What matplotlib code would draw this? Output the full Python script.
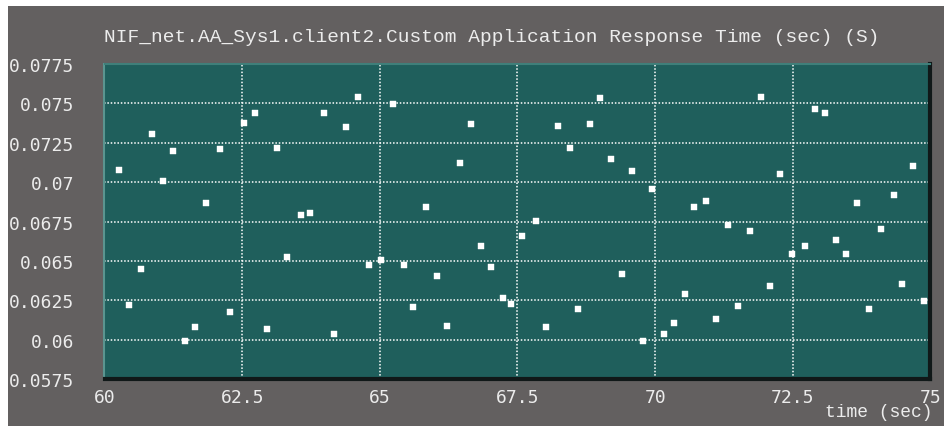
# -*- coding: utf-8 -*-

# Response time samples of the custom application on client2, one point per poll

import matplotlib
matplotlib.use("Agg")
import matplotlib.pyplot as plt
from matplotlib.patches import Rectangle

chart_title = "NIF_net.AA_Sys1.client2.Custom Application Response Time (sec) (S)"
x_label = "time (sec)"

sample_time = [
    60.27, 60.44, 60.66, 60.87, 61.06, 61.24, 61.46, 61.64, 61.85, 62.09,
    62.28, 62.53, 62.73, 62.95, 63.13, 63.31, 63.56, 63.74, 63.99, 64.17,
    64.39, 64.60, 64.81, 65.03, 65.24, 65.43, 65.60, 65.83, 66.03, 66.22,
    66.46, 66.65, 66.83, 67.01, 67.23, 67.38, 67.59, 67.83, 68.02, 68.23,
    68.45, 68.60, 68.81, 69.00, 69.20, 69.39, 69.58, 69.77, 69.94, 70.16,
    70.35, 70.55, 70.70, 70.92, 71.10, 71.32, 71.50, 71.72, 71.93, 72.08,
    72.27, 72.48, 72.73, 72.90, 73.09, 73.28, 73.46, 73.67, 73.88, 74.10,
    74.34, 74.49, 74.68, 74.89,
]

response_time = [
    0.07080, 0.06220, 0.06447, 0.07306, 0.07008, 0.07200, 0.05992, 0.06079, 0.06868, 0.07211,
    0.06174, 0.07378, 0.07438, 0.06070, 0.07219, 0.06525, 0.06790, 0.06807, 0.07438, 0.06034,
    0.07351, 0.07543, 0.06473, 0.06508, 0.07499, 0.06473, 0.06210, 0.06841, 0.06405, 0.06087,
    0.07122, 0.07368, 0.06595, 0.06464, 0.06263, 0.06229, 0.06659, 0.06756, 0.06079, 0.07359,
    0.07219, 0.06193, 0.07368, 0.07535, 0.07148, 0.06419, 0.07071, 0.05992, 0.06955, 0.06034,
    0.06106, 0.06288, 0.06841, 0.06879, 0.06132, 0.06728, 0.06212, 0.06692, 0.07543, 0.06341,
    0.07052, 0.06544, 0.06595, 0.07465, 0.07438, 0.06633, 0.06544, 0.06868, 0.06193, 0.06701,
    0.06921, 0.06352, 0.07105, 0.06246,
]

x_ticks = [60, 62.5, 65, 67.5, 70, 72.5, 75]
x_tick_labels = ["60", "62.5", "65", "67.5", "70", "72.5", "75"]
y_ticks = [0.0575, 0.06, 0.0625, 0.065, 0.0675, 0.07, 0.0725, 0.075, 0.0775]
y_tick_labels = ["0.0575", "0.06", "0.0625", "0.065", "0.0675", "0.07", "0.0725", "0.075", "0.0775"]

panel_grey = "#636060"
plot_teal = "#1f5f5c"
text_light = "#ececec"

def DrawChart():
    figure = plt.figure(figsize = (9.45, 4.27), dpi = 100, facecolor = "white")
    # grey panel behind everything, leaving a thin white strip top and left
    figure.patches.append(Rectangle((8 / 945, 0), 1, 1 - 7 / 427, transform = figure.transFigure,
                                    facecolor = panel_grey, edgecolor = "none", zorder = -10))

    ax = figure.add_axes([104.5 / 945, 1 - 380.2 / 427, 826 / 945, (380.2 - 65.1) / 427])
    ax.set_facecolor(plot_teal)
    ax.set_xlim(60, 75)
    ax.set_ylim(0.0575, 0.0775)

    ax.set_xticks(x_ticks)
    ax.set_xticklabels(x_tick_labels)
    ax.set_yticks(y_ticks)
    ax.set_yticklabels(y_tick_labels)
    ax.tick_params(length = 0, colors = text_light, labelsize = 13)
    ax.tick_params(axis = "y", pad = 22)
    ax.tick_params(axis = "x", pad = 6)
    for label in ax.get_xticklabels() + ax.get_yticklabels():
        label.set_fontfamily("DejaVu Sans Mono")

    # dotted grid on the inner ticks only
    for v in x_ticks[1:-1]:
        ax.axvline(v, color = "white", linestyle = (0, (1, 1.2)), linewidth = 1.1, zorder = 1)
    for v in y_ticks[1:-1]:
        ax.axhline(v, color = "white", linestyle = (0, (1, 1.2)), linewidth = 1.1, zorder = 1)

    ax.plot(sample_time, response_time, linestyle = "none", marker = "s", markersize = 3.8,
            markerfacecolor = "white", markeredgecolor = "white", markeredgewidth = 0.3, zorder = 3)

    # bevelled frame: light top/left, dark bottom/right
    ax.spines["top"].set_color("#3f7f7a")
    ax.spines["left"].set_color("#5a9590")
    ax.spines["bottom"].set_color("#101818")
    ax.spines["right"].set_color("#101818")
    ax.spines["top"].set_linewidth(1.5)
    ax.spines["left"].set_linewidth(1.5)
    ax.spines["bottom"].set_linewidth(3)
    ax.spines["right"].set_linewidth(3)

    figure.text(104.5 / 945, 1 - 38 / 427, chart_title, color = text_light, fontsize = 14,
                fontfamily = "Liberation Mono", ha = "left", va = "center")
    figure.text(933 / 945, 1 - 413 / 427, x_label, color = text_light, fontsize = 13,
                fontfamily = "Liberation Mono", ha = "right", va = "center")

    figure.savefig("out.png", dpi = 100, facecolor = figure.get_facecolor())

if __name__ == "__main__":
    DrawChart()
